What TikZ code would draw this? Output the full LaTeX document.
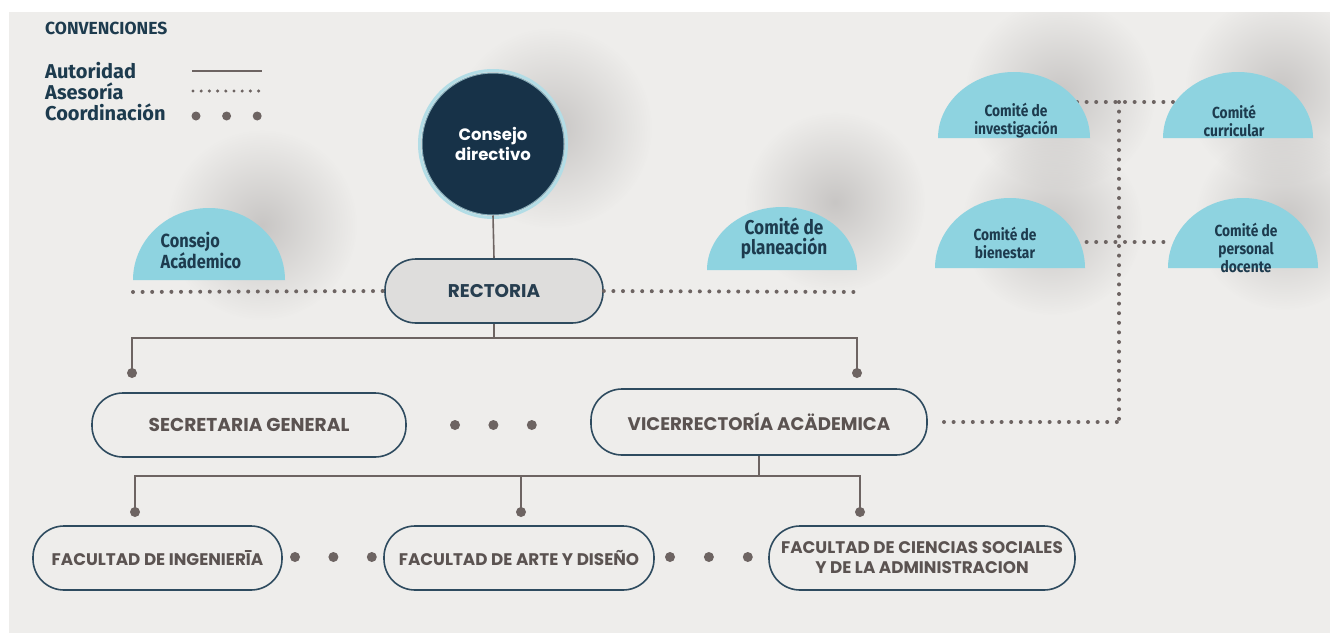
\documentclass[tikz,border=0pt]{standalone}
\usepackage{fontspec}
\setmainfont{Poppins}
\newfontfamily\cond[FakeStretch=0.86]{Fira Sans}
\newfontfamily\legf{Fira Sans}
\usetikzlibrary{fadings}
\definecolor{bg}{HTML}{EEEDEB}
\definecolor{shd}{HTML}{A9A6A5}
\definecolor{navy}{HTML}{173248}
\definecolor{bord}{HTML}{2E4B5F}
\definecolor{cyanf}{HTML}{8ED3E0}
\definecolor{ring}{HTML}{B3DDE6}
\definecolor{gtext}{HTML}{5B5351}
\definecolor{lgray}{HTML}{6D6462}
\definecolor{rfill}{HTML}{DEDDDC}
\definecolor{ctext}{HTML}{1D3B4E}
\tikzfading[name=halofade, inner color=transparent!45, outer color=transparent!100]
\tikzset{
  stadium/.style={draw=bord, line width=1.6pt, rounded corners=31pt, minimum height=64pt,
    align=center, font=\bfseries\fontsize{16.8}{20}\selectfont, text=gtext, inner sep=0pt},
  stadiumbig/.style={stadium, font=\bfseries\fontsize{18.6}{22}\selectfont},
  auth/.style={draw=lgray, line width=1.6pt},
  advise/.style={draw=lgray, line width=4pt, line cap=round, dash pattern=on 0pt off 9.6pt},
  coordn/.style={draw=lgray, line width=10pt, line cap=round, dash pattern=on 0pt off 38.4pt},
  enddot/.style={fill=lgray},
  cmtxt/.style={text=ctext, font=\cond\bfseries\fontsize{16}{18}\selectfont, align=center, inner sep=0pt},
  legtxt/.style={text=ctext, font=\legf\bfseries\fontsize{20}{20}\selectfont, anchor=west, inner sep=0pt},
}
\newcommand{\dome}[4]{% cx, by, rx, ry
  \fill[cyanf] (#1,#2) ++(-#3,0) arc[start angle=180, end angle=0, x radius=#3pt, y radius=#4pt] -- cycle;}
\newcommand{\halo}[3]{\fill[shd, path fading=halofade] (#1,#2) circle[radius=#3pt];}
\begin{document}
\begin{tikzpicture}[x=1pt,y=-1pt]
\useasboundingbox (0,0) rectangle (1330,635);
\fill[white] (0,0) rectangle (1330,635);
\fill[bg] (9,12) rectangle (1330,633);
\begin{scope}
\clip (9,12) rectangle (1330,633);
\halo{262}{225}{95}
\halo{835}{202}{90}
\halo{552}{128}{100}
\halo{1060}{95}{95}
\halo{1280}{90}{95}
\halo{1052}{225}{90}
\halo{1285}{220}{90}
\end{scope}

% legend
\node[legtxt, font=\legf\bfseries\fontsize{17.5}{16}\selectfont] (conv) at (45,28) {CONVENCIONES};
\node[legtxt] (lauto) at (45,71) {Autoridad};
\node[legtxt] (lases) at (45,91) {Asesoría};
\node[legtxt] (lcoor) at (45,112) {Coordinación};
\coordinate (la1) at (192,71); \coordinate (la2) at (262,71);
\coordinate (ls1) at (193,91); \coordinate (ls2) at (259,91);
\coordinate (lc1) at (196,116); \coordinate (lc2) at (273,116);
\draw[auth, line width=1.2pt] (la1) -- (la2);
\draw[advise, line width=3.4pt, dash pattern=on 0pt off 8.2pt] (ls1) -- (ls2);
\draw[coordn, line width=9pt, dash pattern=on 0pt off 30.6pt] (lc1) -- (lc2);

% dotted advisory lines among committees
\coordinate (ci1) at (1077,102); \coordinate (ci2) at (1177,102);
\coordinate (cb1) at (1077,242); \coordinate (cb2) at (1172,242);
\coordinate (vt) at (1119,102); \coordinate (vb) at (1119,422);
\coordinate (vl) at (944,422);
\draw[advise] (ci1) -- (ci2);
\draw[advise] (cb1) -- (cb2);
\draw[advise] (vt) -- (vb);
\draw[advise] (vl) -- (vb);

% domes
\dome{209}{280}{76}{72}
\dome{782}{270}{75}{63}
\dome{1014}{138}{76}{66}
\dome{1238}{138}{75}{66}
\dome{1010}{268}{75}{70}
\dome{1243}{268}{75}{70}

\node[cmtxt, align=left, font=\cond\bfseries\fontsize{19}{20}\selectfont] (ca) at (201,250) {Consejo\\Acádemico};
\node[cmtxt, font=\cond\bfseries\fontsize{20}{20}\selectfont] (cp) at (784,238) {Comité de\\planeación};
\node[cmtxt] (ci) at (1016,121) {Comité de\\investigación};
\node[cmtxt] (cc) at (1234,121) {Comité\\curricular};
\node[cmtxt] (cb) at (1005,243) {Comité de\\bienestar};
\node[cmtxt] (cpd) at (1246,248) {Comité de\\personal\\docente};

% consejo directivo
\draw[ring, line width=3pt] (493,144) circle[radius=73.5pt];
\node[circle, minimum size=142pt, fill=navy, draw=ring!70!navy, line width=1pt, text=white,
  align=center, font=\bfseries\fontsize{16.5}{20}\selectfont, inner sep=0pt] (cd) at (493,144) {Consejo\\directivo};

% rectoria
\node[stadium, fill=rfill, minimum width=218pt, text=navy!85!gray, font=\bfseries\fontsize{18.4}{20}\selectfont] (rect) at (494,291) {RECTORIA};
\draw[auth] (cd.south) -- (rect.north);
\coordinate (al) at (133,292); \coordinate (ar) at (857,292);
\draw[advise] (al) -- (rect.west);
\draw[advise] (rect.east) -- (ar);

% second level
\node[stadiumbig, minimum width=314pt] (sec) at (249,425) {SECRETARIA GENERAL};
\node[stadiumbig, minimum width=336pt, minimum height=66pt, font=\bfseries\fontsize{18.2}{22}\selectfont] (vic) at (759,422) {VICERRECTORÍA ACÄDEMICA};
\coordinate (r1) at (494,338);
\coordinate (d1) at (132,373); \coordinate (d2) at (857,373);
\draw[auth] (rect.south) -- (r1);
\draw[auth] (d1) |- (r1) -| (d2);
\fill[enddot] (d1) circle[radius=5pt];
\fill[enddot] (d2) circle[radius=5pt];
\coordinate (s1) at (455,425); \coordinate (s2) at (532,425);
\draw[coordn] (s1) -- (s2);

% third level
\node[stadium] (ing) at (157.5,558) [minimum width=249pt] {FACULTAD DE INGENIERĪA};
\node[stadium] (art) at (519,558) [minimum width=270pt] {FACULTAD DE ARTE Y DISEÑO};
\node[stadium] (soc) at (922,558) [minimum width=306pt] {FACULTAD DE CIENCIAS SOCIALES\\Y DE LA ADMINISTRACION};
\coordinate (r2) at (759,476);
\coordinate (e1) at (135,512); \coordinate (e2) at (521,512); \coordinate (e3) at (860,512);
\draw[auth] (vic.south) -- (r2);
\draw[auth] (e1) |- (r2) -| (e3);
\draw[auth] (e2) -- (e2 |- r2);
\fill[enddot] (e1) circle[radius=5pt];
\fill[enddot] (e2) circle[radius=5pt];
\fill[enddot] (e3) circle[radius=5pt];
\coordinate (f1) at (295,557); \coordinate (f2) at (372,557);
\coordinate (g1) at (670,557); \coordinate (g2) at (748,557);
\draw[coordn] (f1) -- (f2);
\draw[coordn, dash pattern=on 0pt off 38.9pt] (g1) -- (g2);
\end{tikzpicture}
\end{document}
